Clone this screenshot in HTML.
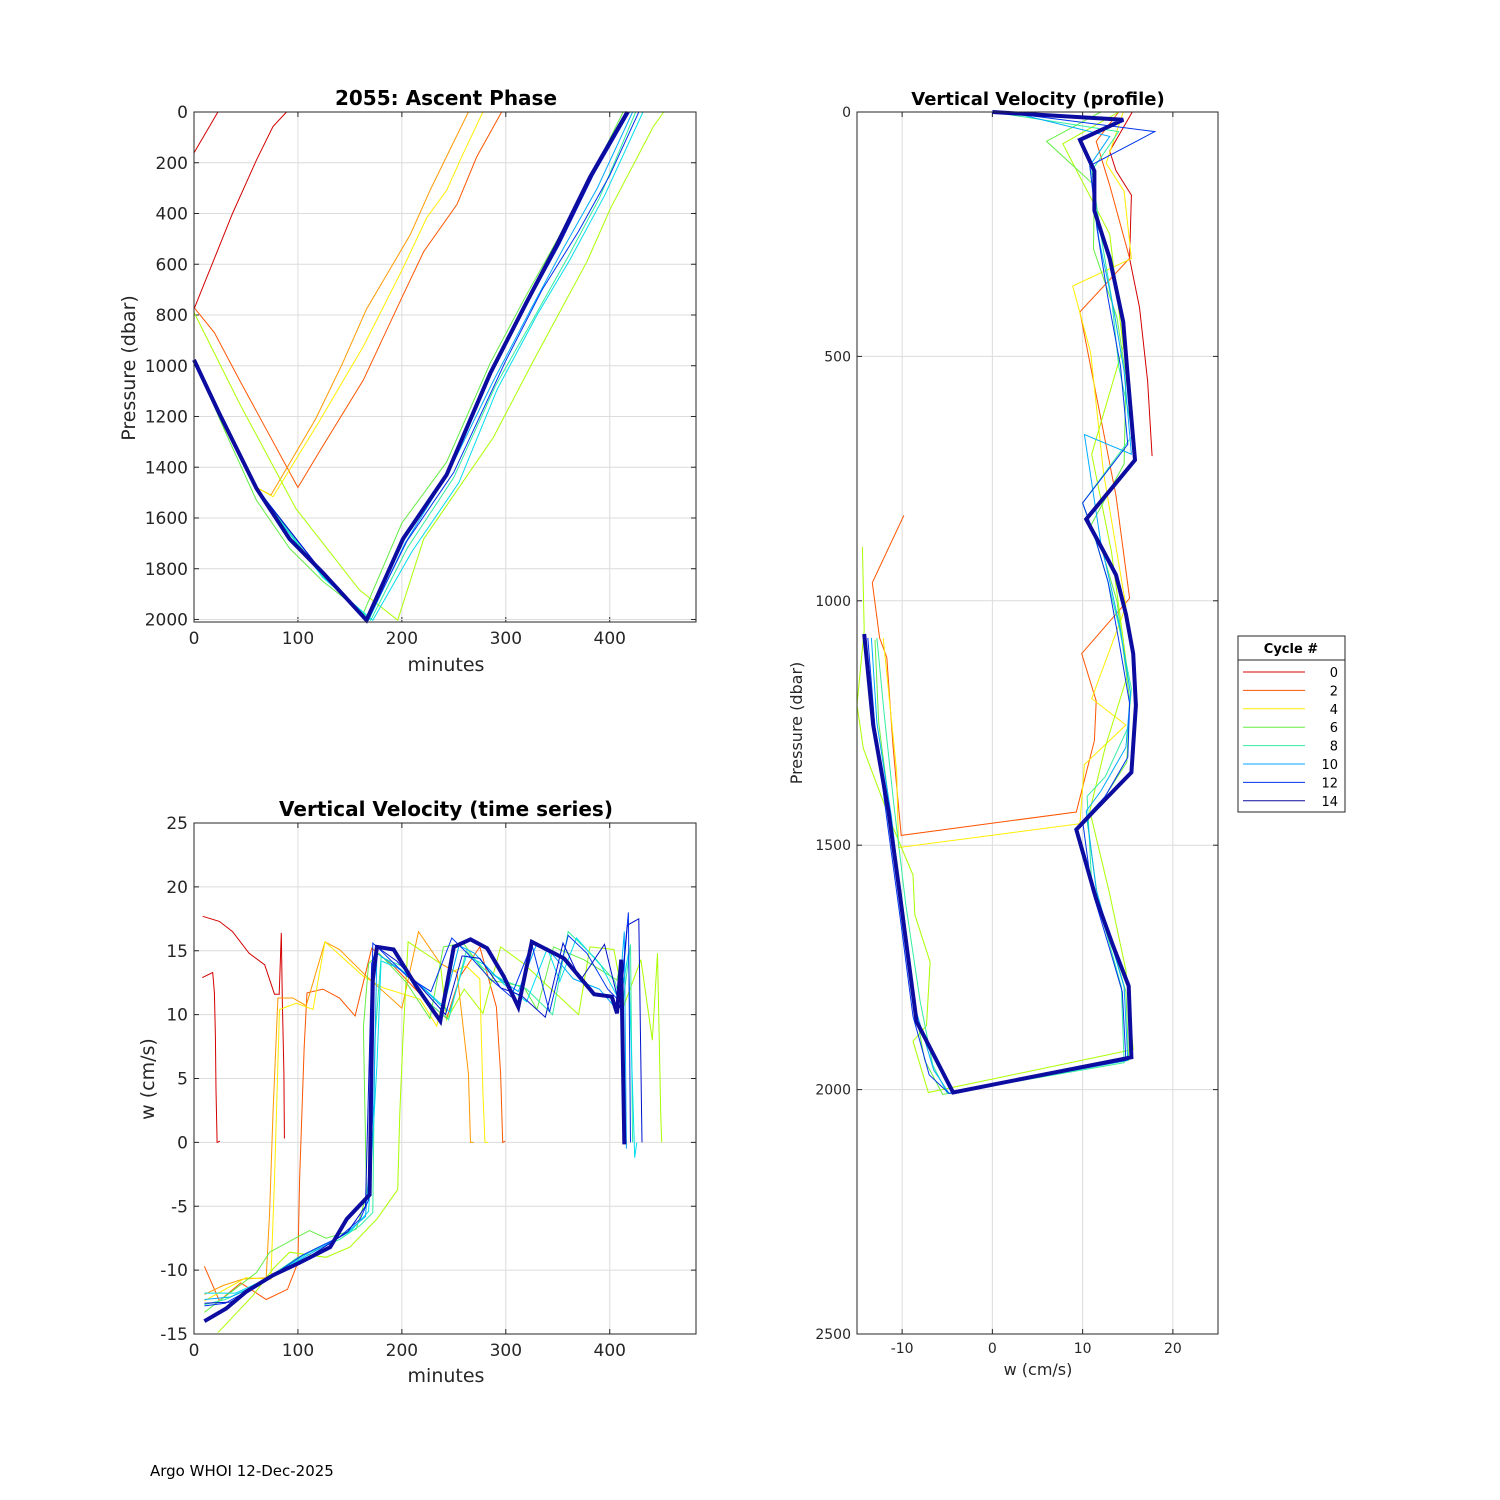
<!DOCTYPE html>
<html><head><meta charset="utf-8"><style>
body{margin:0;background:#fff}
svg{display:block;font-family:"DejaVu Sans","Liberation Sans",sans-serif}
</style></head><body>
<svg id="fig" width="1500" height="1500" viewBox="0 0 1500 1500" xmlns="http://www.w3.org/2000/svg">
<rect x="0" y="0" width="1500" height="1500" fill="#fff"/>
<text x="446" y="105" text-anchor="middle" font-size="20" font-weight="bold">2055: Ascent Phase</text>
<text x="446" y="671" text-anchor="middle" font-size="19" fill="#262626">minutes</text>
<text transform="translate(135,368) rotate(-90)" text-anchor="middle" font-size="19" fill="#262626">Pressure (dbar)</text>
<text x="446" y="816" text-anchor="middle" font-size="20" font-weight="bold">Vertical Velocity (time series)</text>
<text x="446" y="1382" text-anchor="middle" font-size="19" fill="#262626">minutes</text>
<text transform="translate(154,1079) rotate(-90)" text-anchor="middle" font-size="19" fill="#262626">w (cm/s)</text>
<text x="1038" y="105" text-anchor="middle" font-size="18" font-weight="bold">Vertical Velocity (profile)</text>
<text x="1038" y="1375" text-anchor="middle" font-size="16" fill="#262626">w (cm/s)</text>
<text transform="translate(802,723) rotate(-90)" text-anchor="middle" font-size="16" fill="#262626">Pressure (dbar)</text>
<text x="150" y="1476" font-size="15" fill="#000">Argo WHOI 12-Dec-2025</text>
</svg>
<script>
// ---- colours per cycle
const cycleColors = ['#d40000','#ff2000','#ff5500','#ff9900','#ffee00','#aaff00','#66ee44','#44ee77','#33eea0','#00ddee','#00aaff','#0066ff','#0033ee','#0011cc','#0c0ca0'];
const legendCycles = [0,2,4,6,8,10,12,14];

// ---- Plot 1: ascent phase (minutes vs pressure)
const asc_x_ticks = [0,100,200,300,400];
const asc_y_ticks = [0,200,400,600,800,1000,1200,1400,1600,1800,2000];
const asc_t_c0a = [0,23];
const asc_p_c0a = [161,0];
const asc_t_c0b = [0,37,60,76,89];
const asc_p_c0b = [777,400,190,57,0];
const asc_t_c2 = [0,19.6,43.7,100,121,163,201,221,253,272,296];
const asc_p_c2 = [770,870,1056,1480,1336,1056,723,550,364,177,0];
const asc_t_c3 = [0,30,60,74,117,143,166,208,227,246,264];
const asc_p_c3 = [977,1250,1480,1510,1210,990,777,484,310,150,0];
const asc_t_c4 = [0,30,60,76,121,163,201,224,243,259,278];
const asc_p_c4 = [977,1250,1480,1516,1216,923,616,416,309,164,0];
const asc_t_c5 = [0,44,98,159,196,221,288,327,378,401,442,452];
const asc_p_c5 = [790,1150,1563,1883,2003,1683,1283,977,590,377,57,0];
const asc_t_c6 = [0,30,60,92,124,163,200,243,285,320,350,380,413];
const asc_p_c6 = [977,1260,1530,1720,1850,1975,1620,1380,990,720,500,270,0];
const asc_t_c8 = [0,60,124,170,205,250,290,330,360,390,425];
const asc_p_c8 = [977,1483,1830,2003,1720,1440,1080,790,570,340,0];
const asc_t_c9 = [0,60,124,172,210,255,292,330,362,395,432];
const asc_p_c9 = [977,1490,1835,2003,1730,1460,1090,800,580,330,0];
const asc_t_c10 = [0,60,124,168,203,245,288,325,355,388,422];
const asc_p_c10 = [977,1480,1820,2003,1700,1420,1060,770,540,300,0];
const asc_t_c12 = [0,60,124,167,205,250,300,335,370,400,428];
const asc_p_c12 = [977,1483,1816,2003,1690,1420,980,700,470,250,0];
const asc_t_c13 = [0,60,124,166,203,245,287,322,352,384,419];
const asc_p_c13 = [977,1483,1816,2003,1680,1425,1025,745,520,250,0];
const asc_t_c14 = [0,24.5,60,92,124,166,201,243,285,320,349,381,417];
const asc_p_c14 = [977,1190,1483,1683,1816,2003,1683,1430,1030,750,524,257,0];

// ---- Plot 2: velocity time series (minutes vs w)
const ts_x_ticks = [0,100,200,300,400];
const ts_y_ticks = [25,20,15,10,5,0,-5,-10,-15];
const ts_t_c0a = [8,18,19.6,20.6,21.2,22.2,25];
const ts_w_c0a = [12.9,13.3,11.7,8.3,4.1,0,0.1];
const ts_t_c0b = [8.4,24.4,37,53,68,77.5,82,84,85,86.5,87];
const ts_w_c0b = [17.7,17.3,16.5,14.8,13.9,11.6,11.6,16.4,11.2,5.5,0.3];
const ts_t_c2 = [10,24.4,45,69.5,90,100,101.6,106,108.7,124,140,155,171,192,221,243,256,275,291,295,297,299.5];
const ts_w_c2 = [-9.7,-12.4,-11,-12.3,-11.5,-9.4,-2.9,7.5,11.7,12.0,11.3,9.9,15.2,13.8,11.3,9.7,13.0,15.3,10.6,5.4,0,0.1];
const ts_t_c3 = [10,28,47,69.5,72.7,76,80.7,95,108,126,140,166,200,216,237,253,264,266,269];
const ts_w_c3 = [-11.9,-11.2,-10.7,-10.6,-5.5,2.3,11.3,11.3,10.7,15.7,15.1,13.0,10.5,16.5,14.0,13.3,5.4,0,0];
const ts_t_c4 = [10,50,74,77.5,82.3,98.4,114.5,126,163,182,217.5,233.5,246,262,275,278,280,283];
const ts_w_c4 = [-12.4,-10.6,-10.7,-2.9,10.4,10.9,10.4,15.7,13.0,12.1,11.2,9.1,13.3,13.8,12.8,3.9,0,0];
const ts_t_c5 = [23,56.6,76,92,127,150,176,196,198,201,206,237,243,260,278,295,317,370,381,404,414,430,441,446,449,450];
const ts_w_c5 = [-14.9,-12.0,-9.9,-8.6,-9.0,-8.2,-6.0,-3.7,2.3,8.0,15.7,14.0,9.6,12.0,10.1,15.3,14.0,10.0,15.3,15.1,10.8,14.3,8.0,14.8,2.3,0];
const ts_t_c6 = [10,60,72.7,111,127,156,166,163,168,178,204.5,227,240,259,285,317,330,346,375,407,410,413.5];
const ts_w_c6 = [-13.3,-10.2,-8.6,-6.9,-7.5,-6.8,-4.2,9.0,14.0,14.8,12.5,9.7,15.3,15.6,12.7,12.2,10.4,15.3,14.3,12.7,14.0,0];
const ts_t_c8 = [10,30,60,100,140,160,172,174,180,200,225,245,262,280,300,320,345,360,385,405,412,420,422];
const ts_w_c8 = [-12.7,-12.3,-11.2,-9.0,-7.6,-6.5,-5.5,8,14.5,13.8,11.0,9.6,15.0,13.5,12.6,12.0,10.0,16.5,14.5,12.6,10.5,15.5,0];
const ts_t_c9 = [10,40,75,115,150,168,176,180,198,222,246,262,280,298,320,340,352,368,392,410,418,424,426];
const ts_w_c9 = [-11.8,-11.8,-10.5,-8.4,-7.0,-5.4,6,14.2,13.6,12.0,10.2,14.6,13.9,12.4,11.0,15.2,12.6,16.0,13.8,11.0,14.8,-1.2,0];
const ts_t_c10 = [10,35,70,110,145,165,173,176,190,215,240,255,270,290,312,330,345,365,390,408,414,416];
const ts_w_c10 = [-12.3,-12.1,-10.8,-8.8,-7.2,-5.8,3,14.8,14.0,12.5,10.5,15.4,14.8,13.0,11.8,15.6,14.7,12.8,12.0,10.3,16.5,-0.5];
const ts_t_c12 = [10,30,65,105,140,160,168,172,180,205,228,248,263,285,305,325,342,360,378,398,410,418,420];
const ts_w_c12 = [-12.8,-12.6,-11.0,-8.8,-7.4,-6.0,-4.5,15.6,15.0,13.0,11.8,16.0,14.8,12.8,11.4,15.5,10.2,16.2,14.8,12.0,11.0,18.0,0];
const ts_t_c13 = [10,35,70,110,148,165,171,176,195,220,242,258,275,295,315,338,355,372,395,410,417,428,431];
const ts_w_c13 = [-12.6,-12.5,-10.8,-9.0,-7.0,-5.0,14,15.3,14.2,12.0,10.0,14.6,14.4,12.1,11.5,9.8,15.6,12.7,15.5,10.5,17.0,17.5,0];
const ts_t_c14 = [10,31,50,76,102,131,147,169,172,176,192,214,237,250,266,282,298,312,325,356,385,402,407,411,414,416];
const ts_w_c14 = [-14.0,-13.0,-11.7,-10.4,-9.4,-8.2,-6.0,-4.1,12.7,15.3,15.1,12.2,9.5,15.3,15.9,15.2,13.0,10.6,15.7,14.4,11.6,11.4,10.1,14.3,0,0];

// ---- Plot 3: velocity profile (w vs pressure)
const pr_x_ticks = [-10,0,10,20];
const pr_y_ticks = [0,500,1000,1500,2000,2500];
const pr_w_c0 = [17.7,17.2,16.3,15.2,15.4,13.7,13.0,15.5];
const pr_p_c0 = [704,550,400,300,170,120,80,0];
const pr_w_c2 = [-9.8,-13.3,-12.5,-11.7,-11.0,-10.1,9.3,11.3,11.5,9.9,15.2,13.7,9.7,15.2,13.0,11.5,14.0];
const pr_p_c2 = [825,963,1076,1116,1300,1480,1432,1286,1205,1108,995,785,409,299,150,60,0];
const pr_w_c4 = [-12.1,-10.6,-10.4,9.7,10.2,14.8,11.0,14.8,12.3,10.9,8.9,15.4,14.6,12.6,14.5];
const pr_p_c4 = [1076,1351,1505,1456,1335,1254,1200,1011,736,493,356,300,162,105,0];
const pr_w_c5 = [-14.4,-14.2,-15,-14.3,-11,-8.8,-8.6,-6.9,-7.3,-8.8,-7.1,15.6,14.8,13.0,10.8,12.5,15.0,13.2,11.0,14.5,13.0,7.8,14.0];
const pr_p_c5 = [890,1060,1213,1302,1464,1561,1642,1739,1869,1901,2006,1918,1756,1600,1430,1300,1150,900,700,480,250,65,0];
const pr_w_c6 = [-13.0,-12.6,-11.2,-9.8,-8.6,-7.5,-5.5,15.1,14.8,13.2,11.6,10.5,11.8,14.9,15.2,14.5,13.8,12.2,10.8,14.6,14.8,13.8,11.2,11.3,6.0,12.0];
const pr_p_c6 = [1080,1250,1450,1640,1830,1940,2010,1940,1800,1700,1600,1450,1420,1330,1200,1100,1000,900,850,720,540,420,280,150,60,0];
const pr_w_c8 = [-12.8,-12.0,-10.9,-9.6,-8.0,-6.6,-5.0,14.6,14.3,12.8,11.0,10.5,12.5,15.0,15.4,14.0,12.8,11.5,10.0,15.6,14.0,13.2,12.0,11.0,14.0,0];
const pr_p_c8 = [1076,1230,1420,1620,1820,1950,2008,1945,1790,1690,1580,1400,1360,1260,1180,1050,960,880,800,660,520,380,250,120,40,0];
const pr_w_c10 = [-13.4,-12.8,-11.2,-10.0,-8.6,-6.5,-4.8,15.0,14.6,13.0,11.5,10.4,12.0,14.8,15.3,14.2,13.0,12.0,10.2,15.4,14.6,13.4,11.8,10.8,13.0,2.0];
const pr_p_c10 = [1076,1250,1440,1630,1830,1960,2008,1940,1790,1690,1590,1430,1390,1300,1190,1060,960,880,660,700,530,400,260,110,50,0];
const pr_w_c12 = [-13.8,-13.0,-11.6,-10.2,-8.8,-7.0,-4.8,14.8,14.4,12.8,11.0,10.0,12.5,15.0,15.2,14.0,12.8,11.2,10.0,15.0,14.2,12.8,11.6,10.8,18.0,1.0];
const pr_p_c12 = [1076,1260,1460,1650,1850,1970,2008,1940,1800,1700,1590,1450,1400,1320,1210,1080,960,860,800,680,520,380,240,110,40,0];
const pr_w_c14 = [-14.2,-13.2,-11.5,-10.3,-8.4,-4.35,15.4,15.1,13.4,11.5,9.3,11.3,15.4,15.9,15.6,14.8,13.7,12.3,10.4,15.8,15.0,14.5,13.0,11.3,11.3,9.7,14.5,0];
const pr_p_c14 = [1068,1254,1432,1594,1861,2006,1934,1788,1707,1610,1468,1429,1351,1214,1108,1027,947,898,833,712,542,429,299,202,121,57,16,0];

// ---- axes definitions
const NS='http://www.w3.org/2000/svg';
const svg=document.getElementById('fig');
function mk(tag,attrs,parent){const e=document.createElementNS(NS,tag);for(const k in attrs)e.setAttribute(k,attrs[k]);(parent||svg).appendChild(e);return e;}

const ax1={x0:194,x1:696,y0:112,y1:622,xmin:0,xmax:483,ymin:0,ymax:2010,yrev:true};
const ax2={x0:194,x1:696,y0:823,y1:1334,xmin:0,xmax:483,ymin:-15,ymax:25,yrev:false};
const ax3={x0:857,x1:1218,y0:112,y1:1334,xmin:-15,xmax:25,ymin:0,ymax:2500,yrev:true};
function sx(ax,v){return ax.x0+(v-ax.xmin)/(ax.xmax-ax.xmin)*(ax.x1-ax.x0);}
function sy(ax,v){const f=(v-ax.ymin)/(ax.ymax-ax.ymin);return ax.yrev?ax.y0+f*(ax.y1-ax.y0):ax.y1-f*(ax.y1-ax.y0);}

function drawAxes(ax,xt,yt,fs,prefix){
  const g=mk('g',{});
  
  
  const bg=mk('rect',{x:ax.x0,y:ax.y0,width:ax.x1-ax.x0,height:ax.y1-ax.y0,fill:'#fff'},g);
  
  
  xt.forEach(v=>{const x=sx(ax,v);
    const l=mk('line',{x1:x,x2:x,y1:ax.y0,y2:ax.y1,stroke:'#dcdcdc','stroke-width':1},g);
    
    
    mk('line',{x1:x,x2:x,y1:ax.y1,y2:ax.y1-5,stroke:'#262626'},g);
    mk('line',{x1:x,x2:x,y1:ax.y0,y2:ax.y0+5,stroke:'#262626'},g);
    const t=mk('text',{x:x,y:ax.y1+fs+5,'text-anchor':'middle','font-size':fs,fill:'#262626'},g);
    t.textContent=v;
    
    
  });
  yt.forEach(v=>{const y=sy(ax,v);
    const l=mk('line',{x1:ax.x0,x2:ax.x1,y1:y,y2:y,stroke:'#dcdcdc','stroke-width':1},g);
    
    
    mk('line',{x1:ax.x0,x2:ax.x0+5,y1:y,y2:y,stroke:'#262626'},g);
    mk('line',{x1:ax.x1,x2:ax.x1-5,y1:y,y2:y,stroke:'#262626'},g);
    const t=mk('text',{x:ax.x0-6,y:y+fs*0.36,'text-anchor':'end','font-size':fs,fill:'#262626'},g);
    t.textContent=v;
    
    
  });
}
function drawBox(ax,prefix){
  const b=mk('rect',{x:ax.x0,y:ax.y0,width:ax.x1-ax.x0,height:ax.y1-ax.y0,fill:'none',stroke:'#262626','stroke-width':1});
  
  
}
function drawLine(ax,xs,ys,cyc,thick,name){
  const pts=xs.map((x,i)=>sx(ax,x).toFixed(1)+','+sy(ax,ys[i]).toFixed(1)).join(' ');
  const p=mk('polyline',{points:pts,fill:'none',stroke:cycleColors[cyc],'stroke-width':thick?4:1,'stroke-linejoin':'miter'});
  
  
}

// Plot 1
drawAxes(ax1,asc_x_ticks,asc_y_ticks,17,'ascent');
const s1=[[asc_t_c0a,asc_p_c0a,0],[asc_t_c0b,asc_p_c0b,0],[asc_t_c2,asc_p_c2,2],[asc_t_c3,asc_p_c3,3],[asc_t_c4,asc_p_c4,4],[asc_t_c5,asc_p_c5,5],[asc_t_c6,asc_p_c6,6],[asc_t_c8,asc_p_c8,8],[asc_t_c9,asc_p_c9,9],[asc_t_c10,asc_p_c10,10],[asc_t_c12,asc_p_c12,12],[asc_t_c13,asc_p_c13,13]];
s1.forEach(s=>drawLine(ax1,s[0],s[1],s[2],false,'ascent-line-cycle-'+s[2]));
drawLine(ax1,asc_t_c14,asc_p_c14,14,true,'ascent-line-cycle-14');
drawBox(ax1,'ascent');

// Plot 2
drawAxes(ax2,ts_x_ticks,ts_y_ticks,17,'timeseries');
const s2=[[ts_t_c0a,ts_w_c0a,0],[ts_t_c0b,ts_w_c0b,0],[ts_t_c2,ts_w_c2,2],[ts_t_c3,ts_w_c3,3],[ts_t_c4,ts_w_c4,4],[ts_t_c5,ts_w_c5,5],[ts_t_c6,ts_w_c6,6],[ts_t_c8,ts_w_c8,8],[ts_t_c9,ts_w_c9,9],[ts_t_c10,ts_w_c10,10],[ts_t_c12,ts_w_c12,12],[ts_t_c13,ts_w_c13,13]];
s2.forEach(s=>drawLine(ax2,s[0],s[1],s[2],false,'timeseries-line-cycle-'+s[2]));
drawLine(ax2,ts_t_c14,ts_w_c14,14,true,'timeseries-line-cycle-14');
drawBox(ax2,'timeseries');

// Plot 3
drawAxes(ax3,pr_x_ticks,pr_y_ticks,14,'profile');
const s3=[[pr_w_c0,pr_p_c0,0],[pr_w_c2,pr_p_c2,2],[pr_w_c4,pr_p_c4,4],[pr_w_c5,pr_p_c5,5],[pr_w_c6,pr_p_c6,6],[pr_w_c8,pr_p_c8,8],[pr_w_c10,pr_p_c10,10],[pr_w_c12,pr_p_c12,12]];
s3.forEach(s=>drawLine(ax3,s[0],s[1],s[2],false,'profile-line-cycle-'+s[2]));
drawLine(ax3,pr_w_c14,pr_p_c14,14,true,'profile-line-cycle-14');
drawBox(ax3,'profile');

// Legend
const lg=mk('g',{});


mk('rect',{x:1238,y:636,width:107,height:176,fill:'#fff',stroke:'#262626','stroke-width':1},lg);
const lt=mk('text',{x:1291,y:653,'text-anchor':'middle','font-size':13,'font-weight':'bold'},lg);
lt.textContent='Cycle #';


mk('line',{x1:1238,x2:1345,y1:660,y2:660,stroke:'#262626'},lg);
legendCycles.forEach((c,i)=>{
  const y=672+i*18.4;
  const e=mk('g',{},lg);
  
  
  mk('line',{x1:1243,x2:1305,y1:y,y2:y,stroke:cycleColors[c],'stroke-width':1},e);
  const t=mk('text',{x:1338,y:y+5,'text-anchor':'end','font-size':13,fill:'#000'},e);
  t.textContent=c;
});
</script>
</body></html>
